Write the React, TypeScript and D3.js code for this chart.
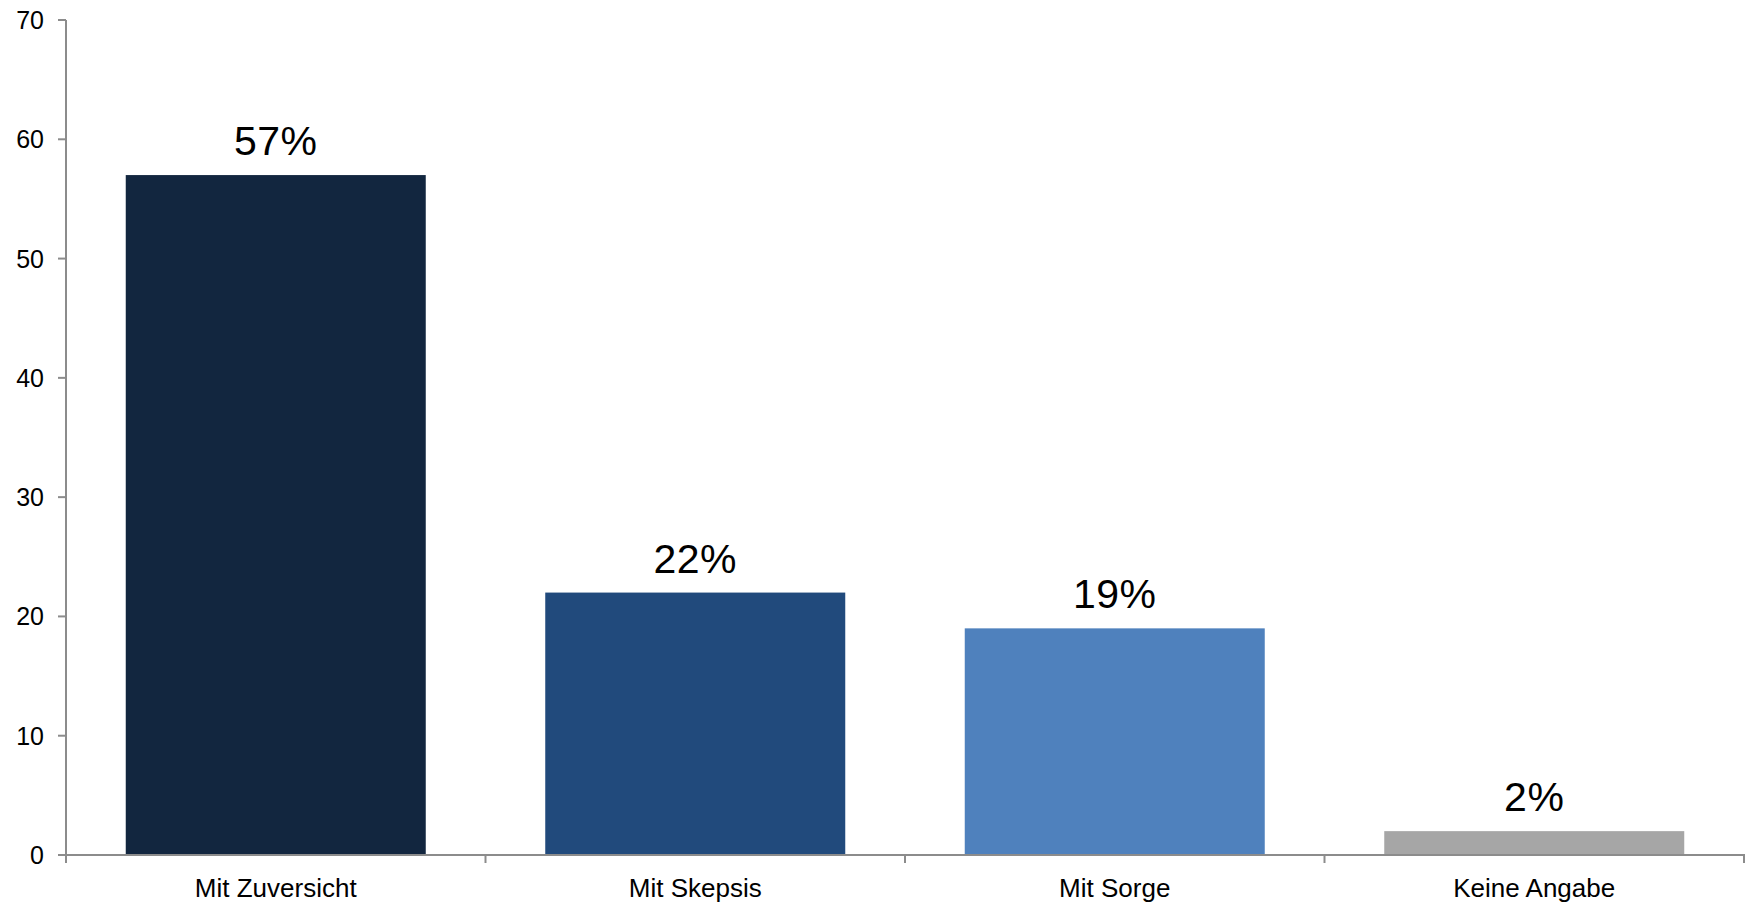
import React from "react";
import * as d3 from "d3";

const categories = ["Mit Zuversicht", "Mit Skepsis", "Mit Sorge", "Keine Angabe"];
const values = [57, 22, 19, 2];
const valueLabels = ["57%", "22%", "19%", "2%"];
const barColors = ["#12263F", "#214A7C", "#4F81BD", "#A6A6A6"];
const yTicks = [0, 10, 20, 30, 40, 50, 60, 70];

export default function App() {
  const W = 1747, H = 902;
  const left = 66, right = 1744, top = 20, bottom = 855;
  const x = d3.scaleBand<string>().domain(categories).range([left, right]).paddingInner(0).paddingOuter(0);
  const y = d3.scaleLinear().domain([0, 70]).range([bottom, top]);
  const barW = 300;
  const axisColor = "#8C8C8C";
  const font = "'Liberation Sans', Arial, sans-serif";
  return (
    <svg width={W} height={H} style={{ position: "absolute", left: 0, top: 0, background: "#fff" }} fontFamily={font}>
      {categories.map((c, i) => {
        const cx = x(c)! + x.bandwidth() / 2;
        return (
          <g key={c}>
            <rect x={cx - barW / 2} y={y(values[i])} width={barW} height={bottom - y(values[i])} fill={barColors[i]} />
            <text x={cx} y={y(values[i]) - 20} textAnchor="middle" fontSize={41} letterSpacing={0.5} fill="#000">{valueLabels[i]}</text>
            <text x={cx} y={897} textAnchor="middle" fontSize={26} fill="#000">{c}</text>
          </g>
        );
      })}
      <line x1={left} x2={left} y1={top} y2={bottom + 8} stroke={axisColor} strokeWidth={2} />
      <line x1={left - 8} x2={right + 1} y1={bottom} y2={bottom} stroke={axisColor} strokeWidth={2} />
      {yTicks.map((t) => (
        <g key={t}>
          <line x1={left - 8} x2={left} y1={y(t)} y2={y(t)} stroke={axisColor} strokeWidth={2} />
          <text x={44} y={y(t) + 9} textAnchor="end" fontSize={25} fill="#000">{t}</text>
        </g>
      ))}
      {d3.range(categories.length + 1).map((i) => {
        const tx = i < categories.length ? x(categories[i])! : right;
        return <line key={i} x1={tx} x2={tx} y1={bottom} y2={bottom + 8} stroke={axisColor} strokeWidth={2} />;
      })}
    </svg>
  );
}
